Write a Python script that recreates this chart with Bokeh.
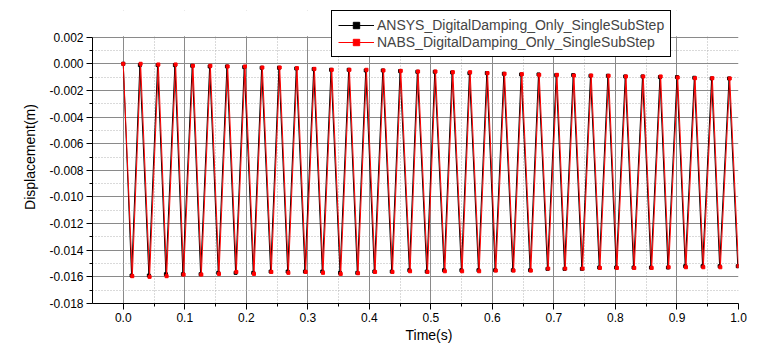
from bokeh.plotting import figure
from bokeh.models import (Range1d, FixedTicker, PrintfTickFormatter, Legend, LegendItem,
                          BoxAnnotation, Title)
from bokeh.embed import file_html
from bokeh.resources import INLINE

# ---------------- data ----------------
x_ticks = [0.0, 0.1, 0.2, 0.3, 0.4, 0.5, 0.6, 0.7, 0.8, 0.9, 1.0]
x_minor = [0.05, 0.15, 0.25, 0.35, 0.45, 0.55, 0.65, 0.75, 0.85, 0.95]
y_ticks = [0.002, 0.0, -0.002, -0.004, -0.006, -0.008, -0.010, -0.012, -0.014, -0.016, -0.018]
y_minor = [0.001, -0.001, -0.003, -0.005, -0.007, -0.009, -0.011, -0.013, -0.015, -0.017]

# NABS (red) series: peaks and troughs of each cycle
nabs_peak_t = [0.0000, 0.0282, 0.0570, 0.0851, 0.1133, 0.1416, 0.1697, 0.1978, 0.2261, 0.2543,
               0.2824, 0.3107, 0.3389, 0.3676, 0.3953, 0.4230, 0.4511, 0.4792, 0.5075, 0.5357,
               0.5638, 0.5921, 0.6198, 0.6479, 0.6761, 0.7049, 0.7325, 0.7606, 0.7889, 0.8171,
               0.8452, 0.8735, 0.9012, 0.9294, 0.9575, 0.9858]
nabs_peak_d = [0.0, 0.0, -0.00005, -0.00005, -0.00015, -0.00015, -0.0002, -0.0002, -0.00028, -0.00028,
               -0.00033, -0.00038, -0.00045, -0.00045, -0.00045, -0.0005, -0.00053, -0.00058, -0.00058, -0.00063,
               -0.00063, -0.0007, -0.00075, -0.00078, -0.00083, -0.00083, -0.00088, -0.00088, -0.0009, -0.00095,
               -0.00095, -0.00095, -0.00103, -0.00108, -0.00108, -0.0011]
nabs_trough_t = [0.0147, 0.0428, 0.0705, 0.0981, 0.1269, 0.1556, 0.1838, 0.2125, 0.2407, 0.2684,
                 0.2965, 0.3247, 0.3535, 0.3816, 0.4093, 0.4376, 0.4662, 0.4945, 0.5227, 0.5508,
                 0.5785, 0.6056, 0.6344, 0.6625, 0.6907, 0.7184, 0.7466, 0.7748, 0.8024, 0.8306,
                 0.8589, 0.8865, 0.9146, 0.9428, 0.9705, 1.0000]
nabs_trough_d = [-0.01595, -0.0160, -0.01595, -0.01583, -0.01583, -0.01578, -0.01563, -0.01578, -0.01563, -0.0157,
                 -0.01563, -0.0157, -0.01578, -0.01573, -0.01563, -0.01563, -0.01558, -0.01563, -0.01558, -0.01558,
                 -0.01558, -0.01553, -0.01553, -0.01553, -0.01538, -0.01538, -0.01538, -0.01533, -0.01533, -0.01533,
                 -0.01533, -0.01528, -0.01528, -0.01528, -0.01528, -0.0152]

# ANSYS (black) series: peaks and troughs of each cycle
ansys_peak_t = [0.0000, 0.0270, 0.0558, 0.0839, 0.1121, 0.1404, 0.1685, 0.1966, 0.2249, 0.2531,
                0.2812, 0.3095, 0.3377, 0.3664, 0.3941, 0.4218, 0.4499, 0.4780, 0.5063, 0.5345,
                0.5626, 0.5909, 0.6186, 0.6467, 0.6749, 0.7037, 0.7313, 0.7594, 0.7877, 0.8159,
                0.8440, 0.8723, 0.9000, 0.9282, 0.9563, 0.9846]
ansys_peak_d = [0.0, -0.0001, -0.0001, -0.0001, -0.00015, -0.0002, -0.0002, -0.00025, -0.0003, -0.0003,
                -0.00035, -0.0004, -0.00045, -0.00045, -0.0005, -0.0005, -0.00055, -0.0006, -0.0006, -0.00065,
                -0.0007, -0.0007, -0.00075, -0.0008, -0.0008, -0.00085, -0.00085, -0.0009, -0.0009, -0.00095,
                -0.00095, -0.001, -0.001, -0.00105, -0.0011, -0.0011]
ansys_trough_t = [0.0135, 0.0416, 0.0693, 0.0969, 0.1257, 0.1544, 0.1826, 0.2113, 0.2395, 0.2672,
                  0.2953, 0.3235, 0.3523, 0.3804, 0.4081, 0.4364, 0.4650, 0.4933, 0.5215, 0.5496,
                  0.5773, 0.6044, 0.6332, 0.6613, 0.6895, 0.7172, 0.7454, 0.7736, 0.8012, 0.8294,
                  0.8577, 0.8853, 0.9134, 0.9416, 0.9693, 0.9988]
ansys_trough_d = [-0.0159, -0.0159, -0.0158, -0.0158, -0.0158, -0.0157, -0.0157, -0.0157, -0.0156, -0.0156,
                  -0.0156, -0.0156, -0.0157, -0.0157, -0.0156, -0.0156, -0.0155, -0.0156, -0.0155, -0.0155,
                  -0.0155, -0.0155, -0.0155, -0.0155, -0.0154, -0.0154, -0.0154, -0.0153, -0.0153, -0.0153,
                  -0.0153, -0.0153, -0.0152, -0.0152, -0.0152, -0.0152]

series_names = ["ANSYS_DigitalDamping_Only_SingleSubStep", "NABS_DigitalDamping_Only_SingleSubStep"]
x_title = "Time(s)"
y_title = "Displacement(m)"
y_axis_bounds = (-0.018, 0.002)


def interleave(a, b):
    out = []
    for u, v in zip(a, b):
        out.append(u)
        out.append(v)
    return out


FONT = "Liberation Sans"

# frame extends above the axis top so that the legend (which overlaps the top) is not clipped
p = figure(width=748, height=344, output_backend="svg", toolbar_location=None,
           x_range=Range1d(-0.05, 1.0), y_range=Range1d(-0.018, 0.004),
           min_border_left=92, min_border_right=10, min_border_top=10, min_border_bottom=41)
p.outline_line_color = None
p.background_fill_color = "white"
p.border_fill_color = "white"

for ax in (p.xaxis[0], p.yaxis[0]):
    ax.axis_line_color = "black"
    ax.major_tick_line_color = "black"
    ax.minor_tick_line_color = "black"
    ax.major_tick_out = 6
    ax.major_tick_in = 0
    ax.minor_tick_out = 3
    ax.minor_tick_in = 0
    ax.major_label_text_font = FONT
    ax.major_label_text_font_size = "12px"
    ax.major_label_text_color = "black"
    ax.major_label_standoff = 3

p.xaxis[0].ticker = FixedTicker(ticks=x_ticks, minor_ticks=x_minor)
p.xaxis[0].formatter = PrintfTickFormatter(format="%.1f")
p.yaxis[0].ticker = FixedTicker(ticks=y_ticks, minor_ticks=y_minor)
p.yaxis[0].formatter = PrintfTickFormatter(format="%.3f")
p.yaxis[0].bounds = y_axis_bounds
p.yaxis[0].axis_label = y_title
p.yaxis[0].axis_label_text_font = FONT
p.yaxis[0].axis_label_text_font_size = "14px"
p.yaxis[0].axis_label_text_font_style = "normal"
p.yaxis[0].axis_label_text_color = "black"
p.yaxis[0].axis_label_standoff = 8

for g in (p.xgrid[0], p.ygrid[0]):
    g.grid_line_color = "#8a8a8a"
    g.grid_line_width = 1
    g.minor_grid_line_color = "#b4b4b4"
    g.minor_grid_line_dash = "1 2"
    g.minor_grid_line_width = 1

ax_t = interleave(ansys_peak_t, ansys_trough_t)
ax_d = interleave(ansys_peak_d, ansys_trough_d)
nb_t = interleave(nabs_peak_t, nabs_trough_t)
nb_d = interleave(nabs_peak_d, nabs_trough_d)

l1 = p.line(ax_t, ax_d, line_color="black", line_width=1)
m1 = p.scatter(ax_t, ax_d, marker="square", size=3, fill_color="black", line_color="black")
l2 = p.line(nb_t, nb_d, line_color="red", line_width=1)
m2 = p.scatter(nb_t, nb_d, marker="square", size=3, fill_color="red", line_color="red")

# blank out the grid above the top of the y axis
mask = BoxAnnotation(bottom=y_axis_bounds[1] + 0.00006, fill_color="white", fill_alpha=1,
                     line_color=None)
p.add_layout(mask)

legend = Legend(items=[LegendItem(label=series_names[0], renderers=[l1, m1]),
                       LegendItem(label=series_names[1], renderers=[l2, m2])],
                location=(239, 246), orientation="vertical",
                border_line_color="black", border_line_width=1, border_line_alpha=1,
                background_fill_color="white", background_fill_alpha=1,
                label_text_font=FONT, label_text_font_size="14px",
                glyph_width=36, glyph_height=16, label_height=16, label_standoff=3,
                padding=6, spacing=1, margin=0)
p.add_layout(legend, "center")

xt = Title(text=x_title, align="left", offset=313, standoff=0,
           text_font=FONT, text_font_size="14px", text_font_style="normal", text_color="black")
p.add_layout(xt, "below")

open("out.html", "w").write(file_html(p, INLINE))
